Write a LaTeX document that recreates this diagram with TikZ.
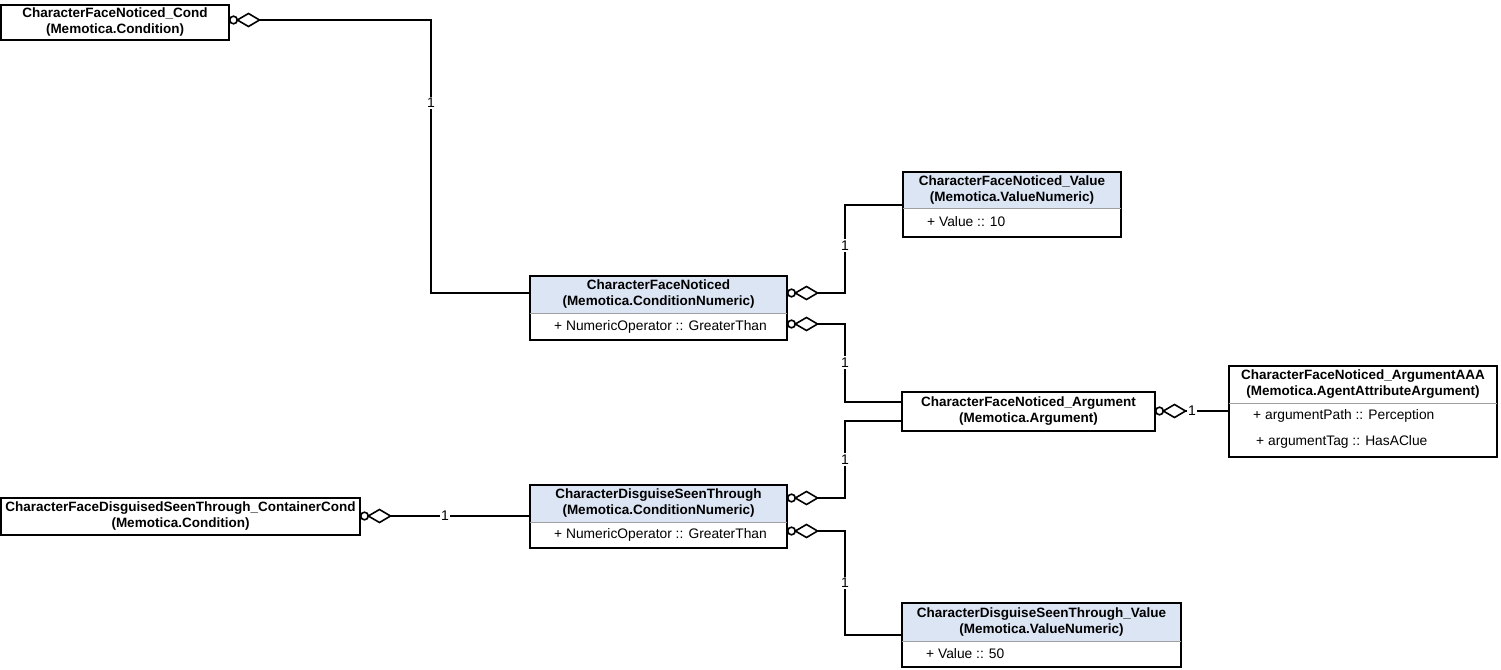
\documentclass[tikz,border=0pt]{standalone}
\usepackage{fontspec}
\setmainfont{Liberation Sans}
\usetikzlibrary{calc}
\definecolor{hdr}{RGB}{220,229,244}
\definecolor{sepc}{RGB}{160,160,160}
\begin{document}
\begin{tikzpicture}[x=1pt,y=-1pt,
  box/.style={draw=black, line width=2pt, rectangle, inner sep=0pt, outer sep=0pt, anchor=north west},
  ttl/.style={font=\fontsize{13.5}{16}\selectfont\bfseries, align=center, inner sep=0pt},
  attr/.style={font=\fontsize{13.8}{16}\selectfont, anchor=west, inner sep=0pt},
  conn/.style={line width=2pt},
  lbl/.style={font=\fontsize{14}{16}\selectfont, fill=white, inner sep=1.5pt},
  sepl/.style={draw=sepc, line width=0.8pt},
  aggr/.pic={
    \draw[line width=1.6pt, fill=white] (4.5,0) circle (3.8);
    \draw[line width=1.6pt, fill=white, line join=miter] (8.3,0) -- (19.5,-6.5) -- (30.5,0) -- (19.5,6.5) -- cycle;
  }
]
\useasboundingbox (0,0) rectangle (1501,669);

% headers fill
\fill[hdr] (530,276) rectangle (787,313);
\fill[hdr] (530,485) rectangle (787,522);
\fill[hdr] (903,172) rectangle (1121,208);
\fill[hdr] (902,603) rectangle (1181,641);

% boxes
\node[box, minimum width=228pt, minimum height=35pt] (cond) at (1,5) {};
\node[box, minimum width=359pt, minimum height=37pt] (ccond) at (1,498) {};
\node[box, minimum width=257pt, minimum height=64pt] (cfn) at (530,276) {};
\node[box, minimum width=257pt, minimum height=63pt] (cdst) at (530,485) {};
\node[box, minimum width=218pt, minimum height=65pt] (value) at (903,172) {};
\node[box, minimum width=253pt, minimum height=39pt] (arg) at (902,392) {};
\node[box, minimum width=268pt, minimum height=91pt] (aaa) at (1229,366) {};
\node[box, minimum width=279pt, minimum height=64pt] (dval) at (902,603) {};

% separators
\draw[sepl] (cfn.west |- 0,313) -- (cfn.east |- 0,313);
\draw[sepl] (cdst.west |- 0,522) -- (cdst.east |- 0,522);
\draw[sepl] (value.west |- 0,208) -- (value.east |- 0,208);
\draw[sepl] (aaa.west |- 0,403) -- (aaa.east |- 0,403);
\draw[sepl] (dval.west |- 0,641) -- (dval.east |- 0,641);

% titles
\node[ttl] (condT) at (115,22.5) {CharacterFaceNoticed\_Cond\\(Memotica.Condition)};
\node[ttl] (ccondT) at (180.5,516.5) {CharacterFaceDisguisedSeenThrough\_ContainerCond\\(Memotica.Condition)};
\node[ttl] (cfnT) at (658.5,294.5) {CharacterFaceNoticed\\(Memotica.ConditionNumeric)};
\node[ttl] (cdstT) at (658.5,503.5) {CharacterDisguiseSeenThrough\\(Memotica.ConditionNumeric)};
\node[ttl] (valueT) at (1012,190) {CharacterFaceNoticed\_Value\\(Memotica.ValueNumeric)};
\node[ttl] (argT) at (1028.5,411.5) {CharacterFaceNoticed\_Argument\\(Memotica.Argument)};
\node[ttl] (aaaT) at (1363,384.5) {CharacterFaceNoticed\_ArgumentAAA\\(Memotica.AgentAttributeArgument)};
\node[ttl] (dvalT) at (1041.5,622) {CharacterDisguiseSeenThrough\_Value\\(Memotica.ValueNumeric)};

% attributes
\node[attr] (cfnA1) at (554,327) {+ NumericOperator :: GreaterThan};
\node[attr] (cdstA1) at (554,535) {+ NumericOperator :: GreaterThan};
\node[attr] (valueA1) at (927,222) {+ Value :: 10};
\node[attr] (aaaA1) at (1253,416) {+ argumentPath :: Perception};
\node[attr] (aaaA2) at (1256,442) {+ argumentTag :: HasAClue};
\node[attr] (dvalA1) at (926,654) {+ Value :: 50};

% ports
\coordinate (condE) at ($(cond.north east)+(0,15)$);
\coordinate (cfnW) at ($(cfn.north west)+(0,17)$);
\coordinate (cfnP1) at ($(cfn.north east)+(0,17)$);
\coordinate (cfnP2) at ($(cfn.north east)+(0,48)$);
\coordinate (argA) at ($(arg.north west)+(0,10)$);
\coordinate (argB) at ($(arg.north west)+(0,29)$);
\coordinate (argE) at ($(arg.north east)+(0,19)$);
\coordinate (ccondE) at ($(ccond.north east)+(0,18)$);
\coordinate (cdstP1) at ($(cdst.north east)+(0,13)$);
\coordinate (cdstP2) at ($(cdst.north east)+(0,46)$);

% connectors
\draw[conn] (condE) -- ++(202,0) |- node[lbl,pos=0.152]{1} (cfnW);
\draw[conn] (cfnP1) -- ++(58,0) |- node[lbl,pos=0.267]{1} (value.west);
\draw[conn] (cfnP2) -- ++(58,0) |- node[lbl,pos=0.247]{1} (argA);
\draw[conn] (argE) -- node[lbl,pos=0.5]{1} (argE -| aaa.west);
\draw[conn] (cdstP1) -- ++(58,0) |- node[lbl,pos=0.25]{1} (argB);
\draw[conn] (ccondE) -- node[lbl,pos=0.5]{1} (ccondE -| cdst.west);
\draw[conn] (cdstP2) -- ++(58,0) |- node[lbl,pos=0.25]{1} (dval.west);

% aggregation ends
\pic at (condE) {aggr};
\pic at (cfnP1) {aggr};
\pic at (cfnP2) {aggr};
\pic at (argE) {aggr};
\pic at (cdstP1) {aggr};
\pic at (ccondE) {aggr};
\pic at (cdstP2) {aggr};
\end{tikzpicture}
\end{document}
